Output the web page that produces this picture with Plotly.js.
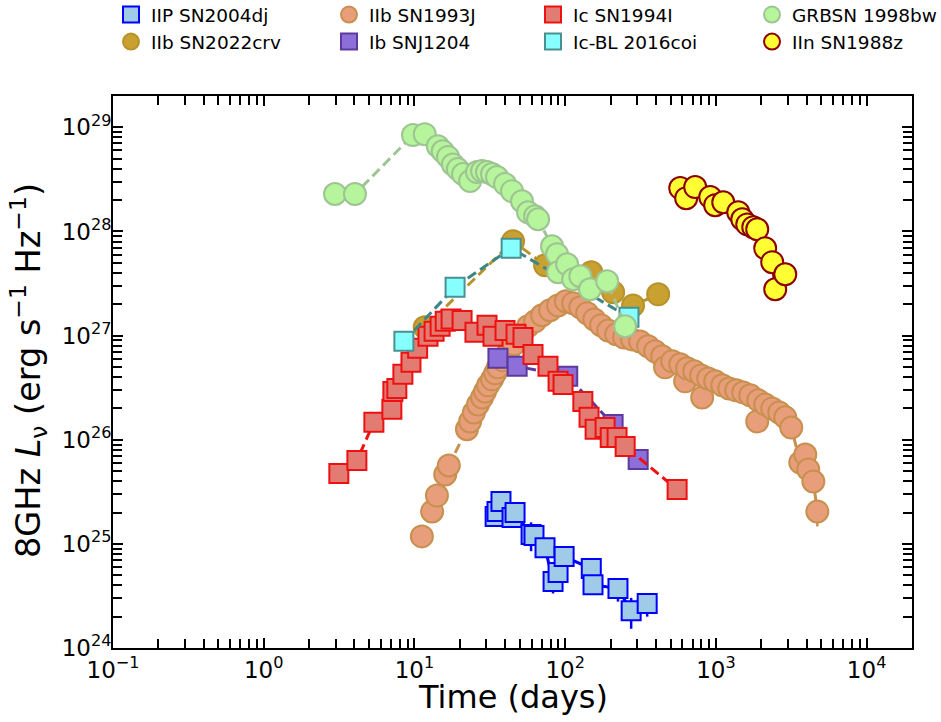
<!DOCTYPE html>
<html>
<head>
<meta charset="utf-8">
<script src="https://cdn.plot.ly/plotly-3.0.1.min.js"></script>
<style>html,body{margin:0;padding:0;background:#fff;}#chart{width:941px;height:722px;}</style>
</head>
<body>
<div id="chart"></div>
<script>
// ---- data (days, erg s^-1 Hz^-1) ----
const t_2004dj = [34.3, 35.3, 37.5, 44.4, 46.5, 59.4, 62.1, 73.5, 83.1, 89.7, 98.4, 149, 153, 224, 274, 350];
const L_2004dj = [1.83e25, 2.05e25, 2.55e25, 1.79e25, 2.0e25, 1.23e25, 1.20e25, 9.2e24, 4.34e24, 5.3e24, 7.55e24, 5.79e24, 4.06e24, 3.72e24, 2.28e24, 2.67e24];
const e_2004dj = [0, 0, 0, 0, 0, 3.8e24, 0, 0, 1.0e24, 0, 0, 1.43e24, 0, 0.93e24, 0.75e24, 0.67e24];

const t_2022crv = [11.7, 45.1, 73.6, 149, 208, 282, 414];
const L_2022crv = [1.20e27, 8.07e27, 4.74e27, 4.06e27, 2.61e27, 1.95e27, 2.49e27];

const t_1993J = [11.2, 13.1, 14.1, 16.0, 16.9, 22.3, 23.4, 24.8, 26.4, 28.1, 29.4, 30.8, 32.7, 34.3, 35.8, 38.7, 41.8, 45.8, 50.2, 56.7,
  63.1, 70.3, 79.4, 89.7, 101, 113, 126, 140, 156, 173, 193, 218, 246, 278, 314, 355, 395, 440, 460, 513,
  580, 625, 644, 718, 798, 811, 889, 989, 1102, 1225, 1365, 1517, 1690, 1880, 1910, 2125, 2365, 2630, 2885, 3162,
  3630, 3917, 4100, 4430, 4710];
const L_1993J = [1.18e25, 2.05e25, 2.91e25, 4.64e25, 5.66e25, 1.26e26, 1.50e26, 1.83e26, 2.18e26, 2.55e26, 2.91e26, 3.33e26, 3.80e26, 4.34e26, 4.96e26, 5.79e26, 6.9e26, 8.25e26, 9.85e26, 1.23e27,
  1.37e27, 1.57e27, 1.75e27, 1.95e27, 2.14e27, 2.05e27, 1.87e27, 1.64e27, 1.43e27, 1.26e27, 1.12e27, 1.03e27, 9.6e26, 9.2e26, 8.8e26, 7.9e26, 7.06e26, 6.32e26, 4.96e26, 5.66e26,
  5.30e26, 3.64e26, 4.85e26, 4.54e26, 4.15e26, 2.55e26, 3.88e26, 3.64e26, 3.33e26, 3.11e26, 2.98e26, 2.85e26, 2.67e26, 1.50e26, 2.39e26, 2.18e26, 2.0e26, 1.83e26, 1.64e26, 1.31e26,
  6.05e25, 7.2e25, 5.18e25, 3.97e25, 2.05e25];
const e_1993J = L_1993J.map((v, i) => i === L_1993J.length - 1 ? 0.58e25 : 0);

const t_J1204 = [35.8, 48.0, 104, 208, 305];
const L_J1204 = [6.05e26, 5.07e26, 4.06e26, 1.40e26, 6.47e25];

const t_1994I = [3.15, 4.15, 5.38, 7.08, 7.19, 7.64, 8.38, 9.48, 10.5, 12.3, 13.5, 14.8, 16.0, 17.5, 20.7, 25.2, 30.3, 33.2, 39.9, 47.2,
  52.5, 61.2, 76.9, 89.7, 96.8, 131, 144, 158, 184, 199, 221, 250, 553];
const L_1994I = [4.74e25, 6.32e25, 1.47e26, 1.96e26, 2.91e26, 3.11e26, 4.25e26, 5.54e26, 7.55e26, 9.85e26, 1.10e27, 1.23e27, 1.37e27, 1.44e27, 1.40e27, 1.08e27, 1.26e27, 9.85e26, 1.12e27, 1.03e27,
  9.6e26, 6.6e26, 5.07e26, 3.64e26, 3.40e26, 2.33e26, 1.64e26, 1.26e26, 1.31e26, 1.05e26, 1.05e26, 8.63e25, 3.33e25];

const t_2016coi = [8.51, 18.6, 43.8, 265];
const L_2016coi = [8.81e26, 2.92e27, 6.92e27, 1.50e27];

const t_1998bw = [2.97, 4.03, 9.78, 11.7, 14.3, 15.4, 16.7, 18.0, 19.4, 21.0, 23.4, 26.0, 28.1, 30.3, 32.7, 35.3, 39.9, 44.4, 51.7, 56.7,
  63.1, 66.1, 81.8, 88.3, 89.7, 103, 113, 126, 146, 190, 250];
const L_1998bw = [2.29e28, 2.29e28, 8.43e28, 8.6e28, 6.6e28, 5.9e28, 5.2e28, 4.4e28, 3.97e28, 3.56e28, 3.05e28, 3.72e28, 3.8e28, 3.72e28, 3.56e28, 3.33e28, 2.85e28, 2.44e28, 1.95e28, 1.53e28,
  1.40e28, 1.31e28, 7.2e27, 6.05e27, 4.06e27, 4.85e27, 3.48e27, 3.72e27, 2.79e27, 3.33e27, 1.23e27];

const t_1988z = [580, 635, 729, 917, 989, 1119, 1407, 1496, 1614, 1770, 1880, 2123, 2364, 2475, 2885];
const L_1988z = [2.61e28, 2.09e28, 2.67e28, 2.14e28, 1.79e28, 1.91e28, 1.53e28, 1.31e28, 1.17e28, 1.10e28, 1.05e28, 6.9e27, 5.07e27, 2.79e27, 3.88e27];

const xTickVals = [0.1, 1, 10, 100, 1000, 10000];
const xTickText = ['10<sup>−1</sup>', '10<sup>0</sup>', '10<sup>1</sup>', '10<sup>2</sup>', '10<sup>3</sup>', '10<sup>4</sup>'];
const yTickVals = [1e24, 1e25, 1e26, 1e27, 1e28, 1e29];
const yTickText = ['10<sup>24</sup>', '10<sup>25</sup>', '10<sup>26</sup>', '10<sup>27</sup>', '10<sup>28</sup>', '10<sup>29</sup>'];
const xTitle = 'Time (days)';
const yTitle = '8GHz <i>L</i><sub>ν</sub> (erg s<sup>−1</sup> Hz<sup>−1</sup>)';

// ---- series definitions (plot order = drawing order) ----
const series = [
  {name: 'IIP SN2004dj', x: t_2004dj, y: L_2004dj, err: e_2004dj, sym: 'square', size: 19, fill: '#a0cbe8', edge: '#0000ff', lc: '#0000ff', dash: 'solid', legend: 'legend'},
  {name: 'IIb SN2022crv', x: t_2022crv, y: L_2022crv, sym: 'circle', size: 22, fill: '#c9a131', edge: '#b8922c', lc: '#b8922c', dash: '10px,5px', legend: 'legend'},
  {name: 'IIb SN1993J', x: t_1993J, y: L_1993J, err: e_1993J, sym: 'circle', size: 22, fill: '#e89e7a', edge: '#c8904e', lc: '#c8904e', dash: '10px,5px', legend: 'legend2'},
  {name: 'Ib SNJ1204', x: t_J1204, y: L_J1204, sym: 'square', size: 19, fill: '#8c6fd9', edge: '#5e3a9e', lc: '#5e3a9e', dash: '10px,5px', legend: 'legend2'},
  {name: 'Ic SN1994I', x: t_1994I, y: L_1994I, sym: 'square', size: 19, fill: '#e27c72', edge: '#ee1111', lc: '#ee1111', dash: '10px,5px', legend: 'legend3'},
  {name: 'Ic-BL 2016coi', x: t_2016coi, y: L_2016coi, sym: 'square', size: 19, fill: '#88ffff', edge: '#4a9090', lc: '#3d8686', dash: '10px,5px', legend: 'legend3'},
  {name: 'GRBSN 1998bw', x: t_1998bw, y: L_1998bw, sym: 'circle', size: 22, fill: '#b6f59b', edge: '#9dc492', lc: '#9dc492', dash: '10px,5px', legend: 'legend4'},
  {name: 'IIn SN1988z', x: t_1988z, y: L_1988z, sym: 'circle', size: 22, fill: '#ffff33', edge: '#8b0000', lc: '#8b0000', dash: '10px,5px', legend: 'legend4'}
];

const traces = [];
series.forEach(s => {
  traces.push({
    type: 'scatter', mode: 'lines', x: s.x, y: s.y, showlegend: false, hoverinfo: 'skip',
    line: {color: s.lc, width: 3, dash: s.dash}, legend: s.legend
  });
  const tr = {
    type: 'scatter', mode: 'markers', name: s.name, x: s.x, y: s.y, legend: s.legend,
    marker: {symbol: s.sym, size: s.size, color: s.fill, line: {color: s.edge, width: 2}}
  };
  if (s.err) {
    tr.error_y = {type: 'data', array: s.err, visible: true, color: s.lc, thickness: 2.5, width: 0};
  }
  traces.push(tr);
});

const FONT = 'DejaVu Sans, sans-serif';
const legendBase = {
  orientation: 'v', xref: 'container', yref: 'paper', xanchor: 'left', yanchor: 'top',
  y: 1 + 100 / 552, bgcolor: 'rgba(0,0,0,0)', borderwidth: 0, font: {family: FONT, size: 18.5, color: '#000'},
  traceorder: 'normal', itemsizing: 'trace'
};

const axisCommon = {
  type: 'log', showgrid: false, zeroline: false, showline: true, linecolor: '#000', linewidth: 2,
  mirror: 'allticks', ticks: 'inside', ticklen: 10, tickwidth: 2, tickcolor: '#000',
  tickmode: 'array', tickfont: {family: FONT, size: 23, color: '#000'}, automargin: false,
  minor: {ticks: 'inside', ticklen: 9, tickwidth: 2, tickcolor: '#000', dtick: 'D1', showgrid: false}
};

const layout = {
  width: 941, height: 722,
  margin: {l: 113, r: 29, t: 96, b: 74, autoexpand: false},
  paper_bgcolor: '#fff', plot_bgcolor: '#fff',
  font: {family: FONT, color: '#000'},
  xaxis: Object.assign({}, axisCommon, {
    range: [-1, Math.log10(2e4)], tickvals: xTickVals, ticktext: xTickText
  }),
  yaxis: Object.assign({}, axisCommon, {
    range: [24, Math.log10(2e29)], tickvals: yTickVals, ticktext: yTickText, ticklabelstandoff: -5
  }),
  annotations: [
    {text: xTitle, xref: 'paper', yref: 'paper', x: 0.5, y: -(697 - 648) / 552, xanchor: 'center', yanchor: 'middle',
     showarrow: false, font: {family: FONT, size: 32, color: '#000'}},
    {text: yTitle, xref: 'paper', yref: 'paper', x: -(113 - 28) / 799, y: (648 - 371) / 552, xanchor: 'center', yanchor: 'middle',
     textangle: -90, showarrow: false, font: {family: FONT, size: 33.5, color: '#000'}}
  ],
  legend: Object.assign({}, legendBase, {x: 111 / 941}),
  legend2: Object.assign({}, legendBase, {x: 329 / 941}),
  legend3: Object.assign({}, legendBase, {x: 533 / 941}),
  legend4: Object.assign({}, legendBase, {x: 752 / 941}),
  showlegend: true
};

Plotly.newPlot('chart', traces, layout, {displayModeBar: false, staticPlot: true});
</script>
</body>
</html>
